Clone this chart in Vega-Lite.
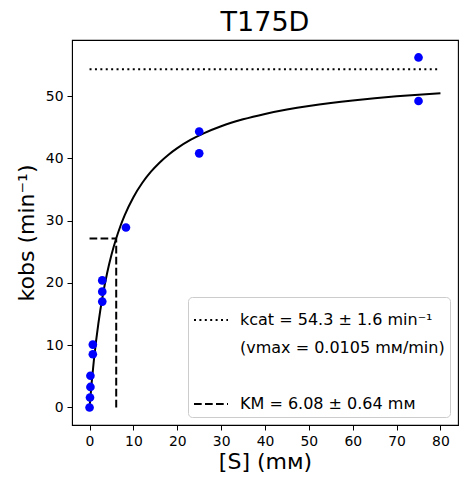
{
  "$schema": "https://vega.github.io/schema/vega-lite/v6.json",
  "autosize": {"type": "none"},
  "padding": {"left": 72, "top": 40, "right": 11, "bottom": 59},
  "width": 386,
  "height": 385,
  "title": {"text": "T175D", "fontSize": 27, "fontWeight": "normal", "font": "DejaVu Sans", "color": "black", "offset": 3},
  "config": {
    "font": "DejaVu Sans",
    "view": {"stroke": "black", "strokeWidth": 1.1},
    "axis": {
      "grid": false, "domainColor": "black", "tickColor": "black", "labelColor": "black", "titleColor": "black",
      "labelFontSize": 13.9, "titleFontSize": 22, "titleFontWeight": "normal", "tickSize": 5, "labelPadding": 4,
      "labelFont": "DejaVu Sans", "titleFont": "DejaVu Sans"
    }
  },
  "encoding": {
    "x": {"field": "x", "type": "quantitative", "scale": {"domain": [-4, 84], "nice": false, "zero": false},
          "axis": {"title": "[S] (mᴍ)", "values": [0, 10, 20, 30, 40, 50, 60, 70, 80], "titlePadding": 4}},
    "y": {"field": "y", "type": "quantitative", "scale": {"domain": [-2.81, 59.0], "nice": false, "zero": false},
          "axis": {"title": "kobs (min⁻¹)", "values": [0, 10, 20, 30, 40, 50], "titlePadding": 7}}
  },
  "layer": [
    {
      "data": {"values": [
        {"x": 0, "y": 0}, {"x": 0.5, "y": 4.126}, {"x": 1, "y": 7.669}, {"x": 1.5, "y": 10.745},
        {"x": 2, "y": 13.441}, {"x": 3, "y": 17.941}, {"x": 4, "y": 21.548}, {"x": 5, "y": 24.504},
        {"x": 6, "y": 26.970}, {"x": 7, "y": 29.060}, {"x": 8, "y": 30.852}, {"x": 10, "y": 33.769},
        {"x": 12, "y": 36.040}, {"x": 14, "y": 37.859}, {"x": 16, "y": 39.348}, {"x": 18, "y": 40.590},
        {"x": 20, "y": 41.641}, {"x": 23, "y": 42.947}, {"x": 26, "y": 44.009}, {"x": 30, "y": 45.150},
        {"x": 35, "y": 46.263}, {"x": 40, "y": 47.135}, {"x": 45, "y": 47.837}, {"x": 50, "y": 48.413},
        {"x": 55, "y": 48.895}, {"x": 60, "y": 49.304}, {"x": 65, "y": 49.655}, {"x": 70, "y": 49.961},
        {"x": 75, "y": 50.228}, {"x": 80, "y": 50.465}
      ]},
      "mark": {"type": "line", "color": "black", "strokeWidth": 2, "interpolate": "monotone"},
      "encoding": {}
    },
    {
      "data": {"values": [
        {"series": "kcat", "x": 0, "x2": 80, "y": 54.3, "y2": 54.3},
        {"series": "KM", "x": 0, "x2": 6.08, "y": 27.15, "y2": 27.15},
        {"series": "KM", "x": 6.08, "x2": 6.08, "y": 0, "y2": 27.15}
      ]},
      "mark": {"type": "rule", "color": "black", "strokeWidth": 2},
      "encoding": {
        "x2": {"field": "x2"},
        "y2": {"field": "y2"},
        "strokeDash": {
          "field": "series", "type": "nominal",
          "scale": {"domain": ["kcat", "vmax", "blank", "KM"], "range": [[2, 3.4], [1, 0], [1, 0], [7.7, 3.3]]},
          "legend": {
            "title": null, "orient": "bottom-right", "offset": 8,
            "symbolType": "stroke", "symbolSize": 1156, "symbolStrokeWidth": 2, "symbolStrokeColor": "black",
            "labelFontSize": 16, "labelFont": "DejaVu Sans", "labelColor": "black", "labelOffset": 11, "labelLimit": 400,
            "rowPadding": 2, "padding": 5, "cornerRadius": 4,
            "fillColor": "rgba(255,255,255,0.8)", "strokeColor": "#cccccc",
            "labelExpr": "datum.value === 'kcat' ? 'kcat = 54.3 ± 1.6 min⁻¹' : datum.value === 'vmax' ? '(vmax = 0.0105 mᴍ/min)' : datum.value === 'KM' ? 'KM = 6.08 ± 0.64 mᴍ' : ' '",
            "encode": {"symbols": {"update": {"strokeOpacity": {"signal": "datum.value === 'vmax' || datum.value === 'blank' ? 0 : 1"}}}}
          }
        }
      }
    },
    {
      "data": {"values": [
        {"x": 0, "y": 0}, {"x": 0.1, "y": 1.6}, {"x": 0.2, "y": 3.3}, {"x": 0.2, "y": 5.1},
        {"x": 0.75, "y": 8.55}, {"x": 0.75, "y": 10.1}, {"x": 2.9, "y": 17.0}, {"x": 2.9, "y": 18.6},
        {"x": 2.9, "y": 20.4}, {"x": 8.3, "y": 28.9}, {"x": 25, "y": 44.3}, {"x": 25, "y": 40.8},
        {"x": 75, "y": 56.2}, {"x": 75, "y": 49.2}
      ]},
      "mark": {"type": "circle", "color": "#0000ff", "opacity": 1, "size": 75},
      "encoding": {}
    }
  ]
}
